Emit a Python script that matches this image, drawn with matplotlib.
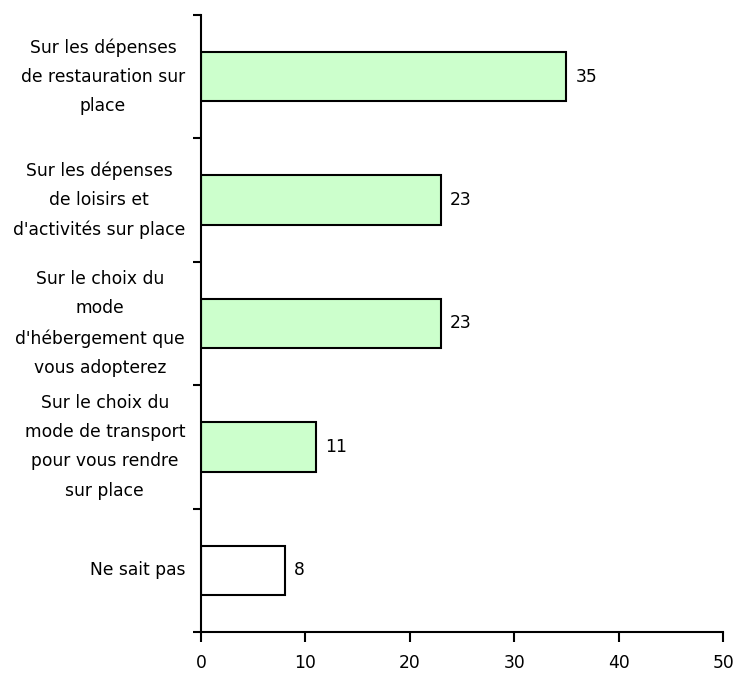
import matplotlib
matplotlib.use("Agg")
import matplotlib.pyplot as plt
import matplotlib.transforms as mtransforms

categories = [
    "Sur les dépenses\nde restauration sur\nplace",
    "Sur les dépenses\nde loisirs et\nd'activités sur place",
    "Sur le choix du\nmode\nd'hébergement que\nvous adopterez",
    "Sur le choix du\nmode de transport\npour vous rendre\nsur place",
    "Ne sait pas",
]
values = [35, 23, 23, 11, 8]
colors = ["#CCFFCC", "#CCFFCC", "#CCFFCC", "#CCFFCC", "#FFFFFF"]
xticks = [0, 10, 20, 30, 40, 50]

plt.rcParams['font.family'] = ['DejaVu Sans']
FS = 12.3

W, H = 737, 673
fig = plt.figure(figsize=(W / 100, H / 100), dpi=100)
ax = fig.add_axes([201 / W, 1 - 632 / H, (723 - 201) / W, (632 - 15) / H])

n = len(categories)
ypos = list(range(n))
ax.barh(ypos, values, height=0.4, color=colors, edgecolor="black", linewidth=1.5)
ax.set_ylim(n - 0.5, -0.5)
ax.set_xlim(0, 50)

ax.set_xticks(xticks)
ax.set_xticklabels([str(t) for t in xticks], fontsize=FS)
ax.set_yticks([i - 0.5 for i in range(n + 1)])
ax.set_yticklabels([])
ax.tick_params(axis="x", direction="out", length=7, width=1.5, pad=9)
ax.tick_params(axis="y", direction="out", length=6, width=1.5)

for s in ["top", "right"]:
    ax.spines[s].set_visible(False)
for s in ["left", "bottom"]:
    ax.spines[s].set_linewidth(1.5)

trans = mtransforms.blended_transform_factory(fig.transFigure, ax.transData)
for i, lab in enumerate(categories):
    ax.text(185 / W, i, lab, transform=trans, ha="right", va="center",
            multialignment="center", fontsize=FS, linespacing=1.8,
            clip_on=False)

for i, v in enumerate(values):
    ax.annotate(str(v), (v, i), xytext=(6.5, 0), textcoords="offset points",
                ha="left", va="center", fontsize=FS)

fig.savefig("out.png", dpi=100)
